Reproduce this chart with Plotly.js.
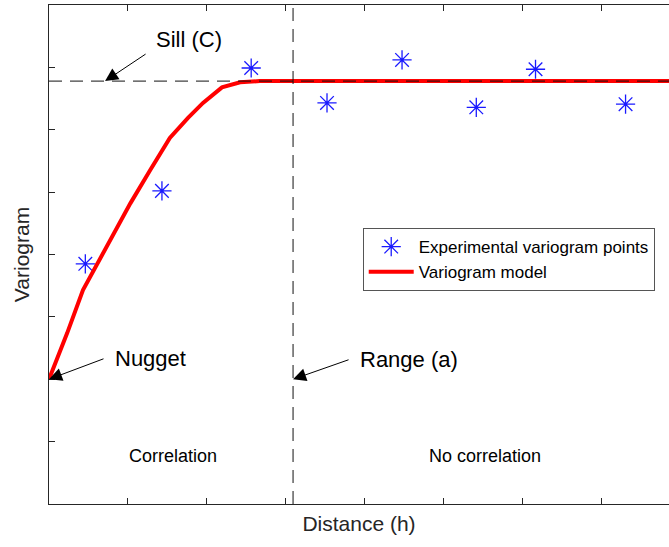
<!DOCTYPE html>
<html>
<head>
<meta charset="utf-8">
<script src="https://cdn.plot.ly/plotly-3.0.1.min.js"></script>
<style>html,body{margin:0;padding:0;background:#fff;}#chart{width:669px;height:547px;}</style>
</head>
<body>
<div id="chart"></div>
<script>
// Experimental variogram points
const expDistance = [0.46, 1.43, 2.56, 3.52, 4.47, 5.41, 6.16, 7.30];
const expGamma    = [3.85, 5.02, 6.99, 6.43, 7.12, 6.36, 6.97, 6.41];

// Variogram model (red curve vertices)
const modelDistance = [0, 0.23, 0.43, 0.73, 1.03, 1.28, 1.53, 1.76, 1.95, 2.19, 2.42, 2.67, 7.85];
const modelGamma    = [2.00, 2.74, 3.43, 4.12, 4.82, 5.35, 5.87, 6.19, 6.43, 6.68, 6.76, 6.78, 6.78];

// Key parameters
const nugget = 2.0;
const sill = 6.78;
const rangeA = 3.09;

const xTicks = [1, 2, 3, 4, 5, 6, 7];
const yTicks = [1, 2, 3, 4, 5, 6, 7];
const xRange = [0, 7.85];
const yRange = [0, 8];

const FONT = 'Liberation Sans, Arial, Helvetica, sans-serif';

const traces = [
  {
    x: expDistance, y: expGamma, type: 'scatter', mode: 'markers',
    name: 'Experimental variogram points',
    marker: {symbol: 'asterisk-open', size: 16, color: '#1a1aff', line: {color: '#1a1aff', width: 1.3}}
  },
  {
    x: modelDistance, y: modelGamma, type: 'scatter', mode: 'lines',
    name: 'Variogram model',
    line: {color: '#ff0000', width: 4}
  }
];

const arrowStyle = {showarrow: true, arrowhead: 2, arrowsize: 2.6, arrowwidth: 1, arrowcolor: '#000', text: ' ', font: {size: 1}};

const layout = {
  width: 669, height: 547,
  margin: {l: 49, r: 0, t: 5, b: 43},
  paper_bgcolor: '#fff', plot_bgcolor: '#fff',
  font: {family: FONT, color: '#000'},
  showlegend: true,
  legend: {
    x: 0.506, y: 0.553, xanchor: 'left', yanchor: 'top',
    bgcolor: '#fff', bordercolor: '#555', borderwidth: 1,
    font: {family: FONT, size: 17, color: '#000'},
    itemwidth: 45
  },
  xaxis: {
    range: xRange, tickvals: xTicks, showticklabels: false,
    ticks: 'inside', ticklen: 6, tickcolor: '#262626',
    showline: true, linecolor: '#262626', linewidth: 1, mirror: 'ticks',
    showgrid: false, zeroline: false,
    title: {text: 'Distance (h)', font: {family: FONT, size: 21, color: '#262626'}, standoff: 12}
  },
  yaxis: {
    range: yRange, tickvals: yTicks, showticklabels: false,
    ticks: 'inside', ticklen: 6, tickcolor: '#262626',
    showline: true, linecolor: '#262626', linewidth: 1, mirror: false,
    showgrid: false, zeroline: false,
    title: {text: 'Variogram', font: {family: FONT, size: 21, color: '#262626'}, standoff: 12}
  },
  shapes: [
    {type: 'line', xref: 'x', yref: 'y', x0: xRange[0], x1: xRange[1], y0: sill, y1: sill,
     line: {color: '#111', width: 1, dash: '13px,8px'}, layer: 'above'},
    {type: 'line', xref: 'x', yref: 'y', x0: rangeA, x1: rangeA, y0: yRange[0], y1: yRange[1],
     line: {color: '#111', width: 1, dash: '13px,8px'}, layer: 'above'}
  ],
  annotations: [
    Object.assign({x: 0.71, y: sill, ax: 42, ay: -28}, arrowStyle),
    Object.assign({x: 0, y: nugget, ax: 56, ay: -21}, arrowStyle),
    Object.assign({x: rangeA, y: nugget, ax: 57, ay: -20}, arrowStyle),
    {x: 1.77, y: 7.44, text: 'Sill (C)', showarrow: false, font: {family: FONT, size: 22, color: '#000'}},
    {x: 0.81, y: 2.34, xanchor: 'left', text: 'Nugget', showarrow: false, font: {family: FONT, size: 22, color: '#000'}},
    {x: 3.91, y: 2.31, xanchor: 'left', text: 'Range (a)', showarrow: false, font: {family: FONT, size: 22, color: '#000'}},
    {x: 1.57, y: 0.77, text: 'Correlation', showarrow: false, font: {family: FONT, size: 18, color: '#000'}},
    {x: 5.52, y: 0.77, text: 'No correlation', showarrow: false, font: {family: FONT, size: 18, color: '#000'}}
  ]
};

Plotly.newPlot('chart', traces, layout, {displayModeBar: false, staticPlot: true});
</script>
</body>
</html>
